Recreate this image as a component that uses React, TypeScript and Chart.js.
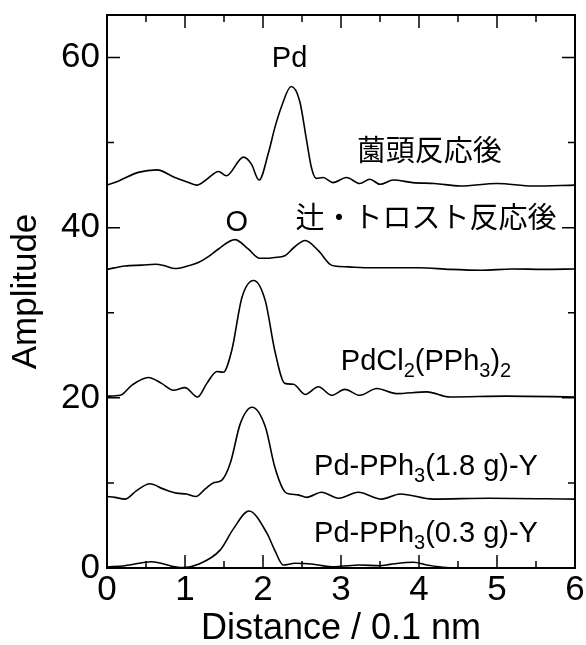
import React, { useEffect, useRef } from "react";
import { Chart, registerables } from "chart.js";

Chart.register(...registerables);

// ---- Data (distance in 0.1 nm, amplitude) ----
const sonogashiraX = [0, 0.15, 0.4, 0.64, 0.87, 1.02, 1.15, 1.28, 1.43, 1.53, 1.75, 1.85, 1.95, 2.07, 2.15, 2.24, 2.36, 2.47, 2.56, 2.62, 2.68, 2.77, 2.9, 3.07, 3.24, 3.37, 3.5, 3.67, 3.92, 4.2, 4.53, 5.0, 5.46, 6.0];
const sonogashiraY = [45.0, 45.5, 46.5, 46.8, 45.9, 45.4, 45.0, 45.7, 46.6, 46.1, 48.3, 47.5, 45.6, 48.8, 51.7, 54.3, 56.6, 54.9, 50.2, 47.1, 45.8, 45.9, 45.3, 45.9, 45.2, 45.7, 45.1, 45.6, 45.3, 45.2, 44.9, 45.2, 44.9, 45.0];

const tsujiTrostX = [0, 0.23, 0.45, 0.62, 0.75, 0.87, 1.0, 1.17, 1.3, 1.43, 1.64, 1.81, 1.96, 2.05, 2.15, 2.28, 2.4, 2.54, 2.71, 2.86, 2.92, 3.1, 3.3, 3.6, 4.0, 4.4, 4.8, 5.2, 5.6, 6.0];
const tsujiTrostY = [35.1, 35.5, 35.6, 35.7, 35.5, 35.2, 35.4, 35.9, 36.6, 37.5, 38.6, 37.5, 36.4, 36.4, 36.5, 36.7, 37.7, 38.5, 37.3, 35.7, 35.5, 35.4, 35.3, 35.3, 35.3, 35.1, 35.0, 35.15, 35.1, 35.15];

const pdcl2X = [0, 0.17, 0.32, 0.53, 0.7, 0.85, 1.0, 1.16, 1.28, 1.41, 1.49, 1.6, 1.73, 1.88, 2.03, 2.15, 2.28, 2.39, 2.54, 2.71, 2.88, 3.05, 3.24, 3.46, 3.71, 4.1, 4.4, 5.12, 6.0];
const pdcl2Y = [20.2, 20.3, 21.5, 22.4, 21.7, 20.9, 21.2, 20.1, 21.7, 23.1, 23.0, 25.6, 31.8, 33.8, 31.4, 25.6, 21.7, 21.6, 20.4, 21.3, 20.3, 21.0, 20.3, 21.1, 20.5, 20.7, 20.1, 20.2, 20.1];

const pd18X = [0, 0.1, 0.23, 0.38, 0.55, 0.72, 0.89, 1.02, 1.14, 1.26, 1.36, 1.47, 1.58, 1.71, 1.86, 2.03, 2.15, 2.26, 2.3, 2.45, 2.56, 2.75, 2.97, 3.22, 3.52, 3.76, 4.18, 4.9, 6.0];
const pd18Y = [8.4, 8.3, 8.1, 9.1, 9.9, 9.3, 8.8, 8.7, 8.4, 9.3, 10.0, 10.3, 12.3, 17.0, 18.9, 16.6, 11.9, 9.2, 8.8, 8.6, 8.3, 8.9, 8.2, 8.9, 8.1, 8.7, 8.1, 8.2, 8.1];

const pd03X = [0, 0.23, 0.57, 0.87, 0.98, 1.17, 1.45, 1.62, 1.82, 2.05, 2.15, 2.26, 2.41, 2.62, 2.88, 3.0, 3.24, 3.5, 3.63, 3.93, 4.1, 4.35, 4.6, 6.0];
const pd03Y = [0.15, 0.27, 0.74, 0.15, 0.04, 0.43, 2.1, 4.6, 6.7, 4.1, 2.1, 0.35, 0.55, 0.47, 0.15, 0.2, 0.35, 0.27, 0.43, 0.67, 0.35, 0.04, 0, 0];

const seriesNames = ["薗頭反応後", "辻・トロスト反応後", "PdCl2(PPh3)2", "Pd-PPh3(1.8 g)-Y", "Pd-PPh3(0.3 g)-Y"];
const seriesXs = [sonogashiraX, tsujiTrostX, pdcl2X, pd18X, pd03X];
const seriesYs = [sonogashiraY, tsujiTrostY, pdcl2Y, pd18Y, pd03Y];

const X_MIN = 0;
const X_MAX = 6;
const Y_MIN = 0;
const Y_MAX = 65;

// ---- Annotations (segments allow subscripts) ----
type Seg = { t: string; sub?: boolean };
type Note = { segs: Seg[]; x: number; y: number; cjk?: boolean };
const notes: Note[] = [
  { segs: [{ t: "Pd" }], x: 2.34, y: 58.9 },
  { segs: [{ t: "O" }], x: 1.663, y: 39.65 },
  { segs: [{ t: "薗頭反応後" }], x: 4.13, y: 47.82, cjk: true },
  { segs: [{ t: "辻・トロスト反応後" }], x: 4.09, y: 39.94, cjk: true },
  { segs: [{ t: "PdCl" }, { t: "2", sub: true }, { t: "(PPh" }, { t: "3", sub: true }, { t: ")" }, { t: "2", sub: true }], x: 4.09, y: 23.3 },
  { segs: [{ t: "Pd-PPh" }, { t: "3", sub: true }, { t: "(1.8 g)-Y" }], x: 4.09, y: 10.9 },
  { segs: [{ t: "Pd-PPh" }, { t: "3", sub: true }, { t: "(0.3 g)-Y" }], x: 4.09, y: 3.09 },
];

const FONT = "'Liberation Sans', Arial, 'Noto Sans CJK JP', sans-serif";
const CJK_FONT = "'Noto Sans CJK JP', 'Liberation Sans', sans-serif";

const framePlugin = {
  id: "frameTicksNotes",
  afterDatasetsDraw(chart: any) {
    const { ctx, chartArea, scales } = chart;
    const { left, right, top, bottom } = chartArea;
    ctx.save();
    ctx.strokeStyle = "#000";
    ctx.lineWidth = 2;
    ctx.strokeRect(left, top, right - left, bottom - top);

    ctx.lineWidth = 1.5;
    ctx.beginPath();
    scales.y.ticks.forEach((t: any) => {
      const py = scales.y.getPixelForValue(t.value);
      const len = t.value % 20 === 0 ? 13 : 7;
      ctx.moveTo(left, py);
      ctx.lineTo(left + len, py);
      ctx.moveTo(right, py);
      ctx.lineTo(right - len, py);
    });
    scales.x.ticks.forEach((t: any) => {
      const px = scales.x.getPixelForValue(t.value);
      const len = Number.isInteger(t.value) ? 13 : 7;
      ctx.moveTo(px, bottom);
      ctx.lineTo(px, bottom - len);
      ctx.moveTo(px, top);
      ctx.lineTo(px, top + len);
    });
    ctx.stroke();

    // annotations
    ctx.fillStyle = "#000";
    ctx.textBaseline = "alphabetic";
    ctx.textAlign = "left";
    notes.forEach((n) => {
      const mainFont = n.cjk ? `29px ${CJK_FONT}` : `29px ${FONT}`;
      const subFont = `20px ${FONT}`;
      let w = 0;
      n.segs.forEach((s) => {
        ctx.font = s.sub ? subFont : mainFont;
        w += ctx.measureText(s.t).width;
      });
      let x = scales.x.getPixelForValue(n.x) - w / 2;
      const y = scales.y.getPixelForValue(n.y);
      n.segs.forEach((s) => {
        ctx.font = s.sub ? subFont : mainFont;
        ctx.fillText(s.t, x, s.sub ? y + 7 : y);
        x += ctx.measureText(s.t).width;
      });
    });
    ctx.restore();
  },
};

export default function App() {
  const canvasRef = useRef<HTMLCanvasElement | null>(null);

  useEffect(() => {
    const canvas = canvasRef.current;
    if (!canvas) return;
    const datasets = seriesNames.map((name, i) => ({
      label: name,
      data: seriesXs[i].map((x, j) => ({ x, y: seriesYs[i][j] })),
      borderColor: "#000",
      backgroundColor: "#000",
      borderWidth: 1.6,
      pointRadius: 0,
      fill: false,
      cubicInterpolationMode: "monotone" as const,
    }));

    const chart = new Chart(canvas, {
      type: "line",
      data: { datasets },
      options: {
        animation: false,
        responsive: false,
        devicePixelRatio: 1,
        layout: { padding: { top: 15, right: 11, bottom: 0, left: 0 } },
        plugins: { legend: { display: false }, tooltip: { enabled: false } },
        scales: {
          x: {
            type: "linear",
            min: X_MIN,
            max: X_MAX,
            grid: { display: false, drawTicks: false },
            border: { display: false },
            ticks: {
              stepSize: 0.5,
              autoSkip: false,
              maxRotation: 0,
              includeBounds: false,
              padding: 1,
              color: "#000",
              font: { family: FONT, size: 35 },
              callback: (v: any) => (Number.isInteger(v) ? String(v) : ""),
            },
            title: {
              display: true,
              text: "Distance / 0.1 nm",
              color: "#000",
              font: { family: FONT, size: 36, lineHeight: 0.88 },
              padding: { top: 0, bottom: 0 },
            },
            afterFit: (s: any) => {
              s.height = 77;
              s.paddingLeft = 0;
              s.paddingRight = 0;
            },
          },
          y: {
            type: "linear",
            min: Y_MIN,
            max: Y_MAX,
            grid: { display: false, drawTicks: false },
            border: { display: false },
            ticks: {
              stepSize: 10,
              autoSkip: false,
              includeBounds: false,
              padding: 7,
              color: "#000",
              font: { family: FONT, size: 35 },
              callback: (v: any) => (v % 20 === 0 ? String(v) : ""),
            },
            title: {
              display: true,
              text: "Amplitude",
              color: "#000",
              font: { family: FONT, size: 35, lineHeight: 0.88 },
              padding: { top: 11, bottom: 0 },
            },
            afterFit: (s: any) => {
              s.width = 107;
              s.paddingTop = 0;
              s.paddingBottom = 0;
            },
          },
        },
      },
      plugins: [framePlugin],
    });
    return () => chart.destroy();
  }, []);

  return (
    <div style={{ position: "fixed", left: 0, top: 0, width: 586, height: 645, background: "#fff" }}>
      <canvas ref={canvasRef} width={586} height={645} style={{ display: "block" }} />
    </div>
  );
}
